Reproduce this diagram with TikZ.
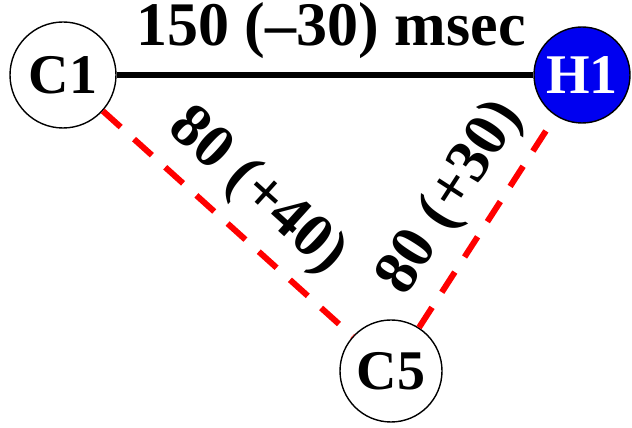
\documentclass[tikz,border=0pt]{standalone}
\usepackage{fontspec}
\setmainfont{Liberation Serif}
\usetikzlibrary{positioning}
\definecolor{hostblue}{HTML}{0000F0}
\definecolor{linkred}{HTML}{FF0000}
\tikzset{
  site/.style={circle, draw=black, line width=1.4pt, inner sep=0pt, font=\fontsize{56}{56}\selectfont\bfseries},
  fastlink/.style={draw=black, line width=6pt},
  slowlink/.style={draw=linkred, line width=6pt, dash pattern=on 24pt off 18pt},
  delay/.style={font=\fontsize{62}{62}\selectfont\bfseries, inner sep=0pt}
}

\begin{document}
\begin{tikzpicture}[x=1pt,y=1pt]
\useasboundingbox (0,0) rectangle (632,428);
\node[site, minimum size=106pt, fill=white] (c1) at (63,353) {C1};
\node[site, minimum size=96pt, fill=hostblue, text=white] (h1) at (582,353) {H1};
\node[site, minimum size=102pt] (c5) at (391,57) {C5};
\draw[fastlink] (c1) -- node[delay, above=13pt, xshift=6pt] (lbl-top) {150 (–30) msec} (h1);
\draw[slowlink] (c1) -- node[delay, sloped, above=12pt] (lbl-left) {80 (+40)} (c5);
\draw[slowlink] (c5) -- node[delay, sloped, above=12pt] (lbl-right) {80 (+30)} (h1);
\end{tikzpicture}
\end{document}
